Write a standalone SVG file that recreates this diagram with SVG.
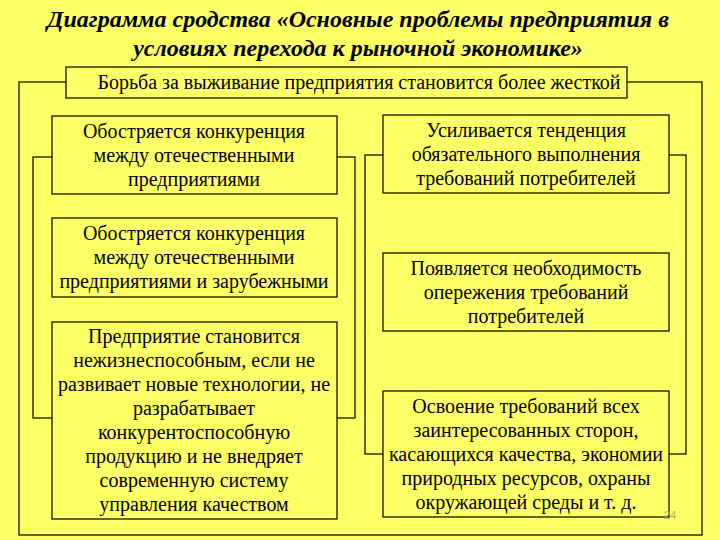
<svg xmlns="http://www.w3.org/2000/svg" width="720" height="540" viewBox="0 0 720 540">
<style>
.bg{fill:#FFFF66}
.box{fill:#FFFF66;stroke:#000;stroke-width:1.2}
.ln{fill:none;stroke:#000;stroke-width:1.2}
.t{font-family:"Liberation Serif","DejaVu Serif",serif;font-size:20px;fill:#000;text-anchor:middle}
.title{font-family:"Liberation Serif","DejaVu Serif",serif;font-size:24px;font-weight:bold;font-style:italic;fill:#000;text-anchor:middle}
.pg{font-family:"Liberation Sans",Arial,sans-serif;font-size:11px;fill:#B8AE60}
</style>
<rect class="bg" x="0" y="0" width="720" height="540"/>
<g id="title">
<text class="title" x="358" y="27">Диаграмма сродства «Основные проблемы предприятия в</text>
<text class="title" x="358" y="56">условиях перехода к рыночной экономике»</text>
</g>
<g id="connectors">
<rect class="ln" x="19" y="82" width="683" height="453"/>
<rect class="ln" x="33" y="157" width="322" height="261"/>
<rect class="ln" x="365" y="155" width="321" height="299"/>
</g>
<g id="top">
<rect class="box" x="66" y="67" width="561" height="31"/>
<text class="t" x="359" y="89">Борьба за выживание предприятия становится более жесткой</text>
</g>
<g id="left1">
<rect class="box" x="52" y="116" width="285" height="78"/>
<text class="t" x="194" y="138">Обостряется конкуренция</text>
<text class="t" x="194" y="162">между отечественными</text>
<text class="t" x="194" y="186">предприятиями</text>
</g>
<g id="left2">
<rect class="box" x="52" y="218" width="285" height="79"/>
<text class="t" x="194" y="240">Обостряется конкуренция</text>
<text class="t" x="194" y="264">между отечественными</text>
<text class="t" x="194" y="288">предприятиями и зарубежными</text>
</g>
<g id="left3">
<rect class="box" x="52" y="322" width="285" height="197"/>
<text class="t" x="194" y="343">Предприятие становится</text>
<text class="t" x="194" y="367">нежизнеспособным, если не</text>
<text class="t" x="194" y="391">развивает новые технологии, не</text>
<text class="t" x="194" y="415">разрабатывает</text>
<text class="t" x="194" y="439">конкурентоспособную</text>
<text class="t" x="194" y="463">продукцию и не внедряет</text>
<text class="t" x="194" y="487">современную систему</text>
<text class="t" x="194" y="511">управления качеством</text>
</g>
<g id="right1">
<rect class="box" x="383" y="115" width="286" height="78"/>
<text class="t" x="526" y="137">Усиливается тенденция</text>
<text class="t" x="526" y="161">обязательного выполнения</text>
<text class="t" x="526" y="185">требований потребителей</text>
</g>
<g id="right2">
<rect class="box" x="383" y="253" width="286" height="78"/>
<text class="t" x="526" y="275">Появляется необходимость</text>
<text class="t" x="526" y="299">опережения требований</text>
<text class="t" x="526" y="323">потребителей</text>
</g>
<g id="right3">
<rect class="box" x="383" y="391" width="286" height="126"/>
<text class="t" x="526" y="413">Освоение требований всех</text>
<text class="t" x="526" y="437">заинтересованных сторон,</text>
<text class="t" x="526" y="461">касающихся качества, экономии</text>
<text class="t" x="526" y="485">природных ресурсов, охраны</text>
<text class="t" x="526" y="509">окружающей среды и т. д.</text>
</g>
<text class="pg" x="664" y="519">24</text>
</svg>
